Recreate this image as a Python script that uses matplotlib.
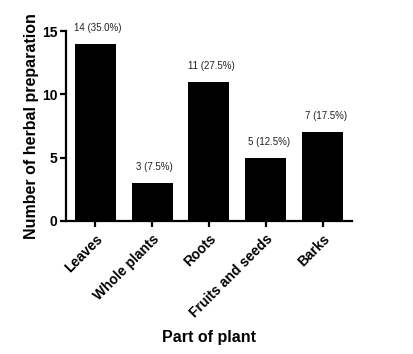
import matplotlib
matplotlib.use("Agg")
import matplotlib.pyplot as plt

plt.rcParams['font.family'] = ['Liberation Sans', 'DejaVu Sans']

categories = ["Leaves", "Whole plants", "Roots", "Fruits and seeds", "Barks"]
counts = [14, 3, 11, 5, 7]
labels = ["14 (35.0%)", "3 (7.5%)", "11 (27.5%)", "5 (12.5%)", "7 (17.5%)"]
yticks = [0, 5, 10, 15]

fig = plt.figure(figsize=(4.13, 3.54), dpi=100)
ax = fig.add_axes([0.160, 0.376, 0.692, 0.536])

x = list(range(len(categories)))
ax.bar(x, counts, width=0.72, color="black")
for xi, c, lab in zip(x, counts, labels):
    ax.annotate(lab, (xi, c), xytext=(2, 8), textcoords="offset points",
                ha="center", va="bottom", fontsize=7, color="#222222")

ax.set_xlim(-0.51, 4.51)
ax.set_ylim(0, 15)
ax.set_yticks(yticks)
ax.set_xticks(x)
ax.set_xticklabels(categories, rotation=45, ha="right", rotation_mode="anchor",
                   fontsize=10, fontweight="bold")
for t in ax.get_yticklabels():
    t.set_fontweight("bold")
    t.set_fontsize(10)

ax.spines["top"].set_visible(False)
ax.spines["right"].set_visible(False)
ax.spines["left"].set_linewidth(1.6)
ax.spines["bottom"].set_linewidth(1.6)
ax.tick_params(axis="both", width=1.6, length=4, pad=2)
ax.tick_params(axis="x", pad=4)

ax.set_ylabel("Number of herbal preparation", fontsize=11.5, fontweight="bold", labelpad=2)
ax.set_xlabel("Part of plant", fontsize=11.5, fontweight="bold", labelpad=7)

fig.savefig("out.png", dpi=100)
